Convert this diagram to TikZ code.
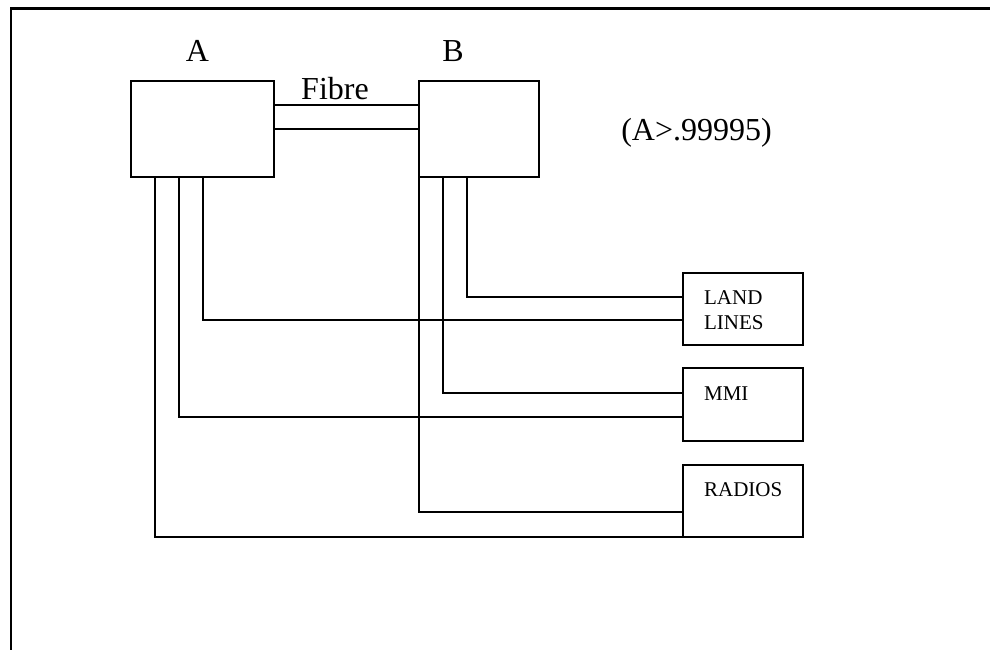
\documentclass[tikz,border=0pt]{standalone}
\usepackage{fontspec}
\setmainfont{Liberation Serif}
\begin{document}
\begin{tikzpicture}[x=1pt,y=-1pt,
  line width=2.2pt,
  box/.style={draw,rectangle,inner sep=0pt,outer sep=0pt},
  bigtxt/.style={font=\fontsize{32}{34}\selectfont,inner sep=0pt,anchor=base},
  smalltxt/.style={font=\fontsize{21}{24}\selectfont,inner sep=0pt,anchor=base west}]
\useasboundingbox (0,0) rectangle (990,650);
% frame
\draw[line width=2.6pt] (990,8.3) -- (11,8.3) -- (11,650);
% main boxes
\node[box,minimum width=143pt,minimum height=96pt] (A) at (202.5,129) {};
\node[box,minimum width=120pt,minimum height=96pt] (B) at (479,129) {};
\node[box,minimum width=120pt,minimum height=72pt] (L) at (743,309) {};
\node[box,minimum width=120pt,minimum height=73pt] (M) at (743,404.5) {};
\node[box,minimum width=120pt,minimum height=72pt] (R) at (743,501) {};
% labels
\node[bigtxt] (la) at (197.5,62) {A};
\node[bigtxt] (lb) at (453,62) {B};
\node[bigtxt] (lf) at (335,100) {Fibre};
\node[bigtxt] (lav) at (696.5,140) {(A>.99995)};
\node[smalltxt] (tl1) at (703,304) {LAND};
\node[smalltxt] (tl2) at (703,329) {LINES};
\node[smalltxt] (tm) at (703,400) {MMI};
\node[smalltxt] (tr) at (703,496) {RADIOS};
% fibre
\draw ([yshift=24pt]A.east) -- ([yshift=24pt]B.west);
\draw (A.east) -- (B.west);
% connectors from A
\draw ([xshift=24pt]A.south west) |- (R.south west);
\draw ([xshift=48pt]A.south west) |- ([yshift=-49pt]M.north west);
\draw ([xshift=72pt]A.south west) |- ([yshift=-47pt]L.north west);
% connectors from B
\draw (B.south west) |- ([yshift=-47pt]R.north west);
\draw ([xshift=24pt]B.south west) |- ([yshift=-25pt]M.north west);
\draw ([xshift=48pt]B.south west) |- ([yshift=-24pt]L.north west);
\end{tikzpicture}
\end{document}
